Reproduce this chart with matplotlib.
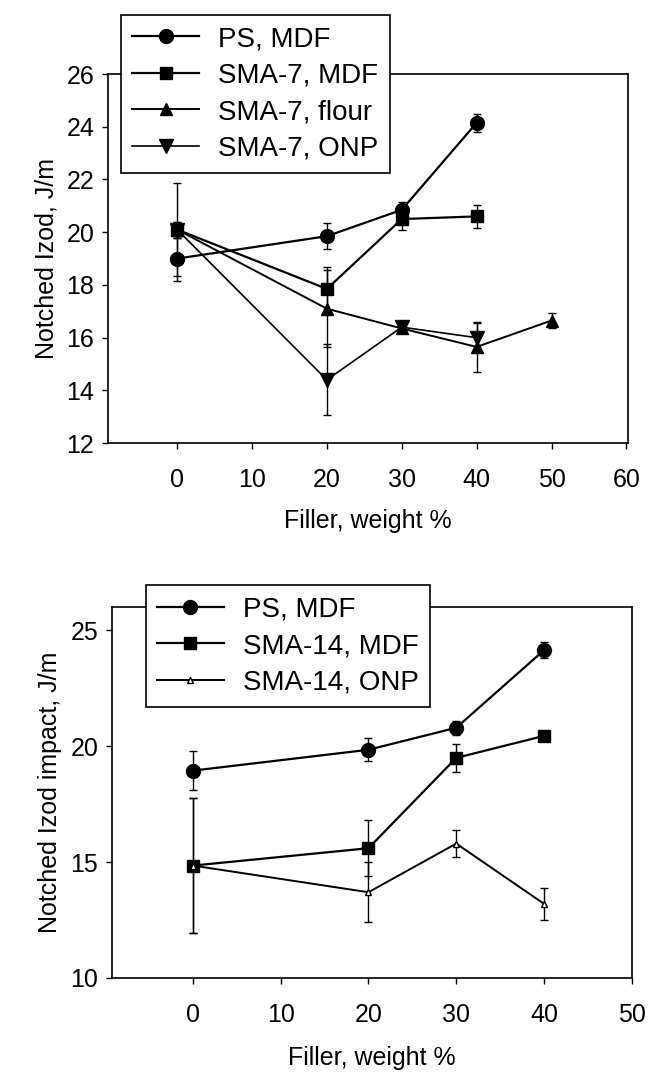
import matplotlib
matplotlib.use("Agg")
import matplotlib.pyplot as plt

plt.rcParams['font.family'] = ['Liberation Sans', 'DejaVu Sans']

# top panel: SMA-7 series
x_ps = [0, 20, 30, 40]
ps_mdf = [19.0, 19.85, 20.85, 24.15]
ps_mdf_err = [0.85, 0.5, 0.3, 0.35]

x_sma7_mdf = [0, 20, 30, 40]
sma7_mdf = [20.1, 17.85, 20.5, 20.6]
sma7_mdf_err = [1.75, 0.85, 0.4, 0.45]

x_sma7_flour = [0, 20, 30, 40, 50]
sma7_flour = [20.1, 17.1, 16.35, 15.65, 16.65]
sma7_flour_err = [0.3, 1.45, 0.1, 0.95, 0.3]

x_sma7_onp = [0, 20, 30, 40]
sma7_onp = [20.1, 14.4, 16.4, 16.0]
sma7_onp_err = [0.3, 1.35, 0.1, 0.55]

# bottom panel: SMA-14 series
ps_mdf_b = [18.95, 19.85, 20.8, 24.15]
ps_mdf_b_err = [0.85, 0.5, 0.3, 0.35]

x_sma14 = [0, 20, 30, 40]
sma14_mdf = [14.85, 15.6, 19.5, 20.45]
sma14_mdf_err = [2.9, 1.2, 0.6, 0.2]
sma14_onp = [14.85, 13.7, 15.8, 13.2]
sma14_onp_err = [2.9, 1.3, 0.6, 0.7]

top_yticks = [12, 14, 16, 18, 20, 22, 24, 26]
top_xticks = [0, 10, 20, 30, 40, 50, 60]
bot_yticks = [10, 15, 20, 25]
bot_xticks = [0, 10, 20, 30, 40, 50]

FS = 18


def series(ax, x, y, err, marker, ms, label, mfc='black', lw=1.6):
    # error bars without legend entry, line+marker carries the label
    ax.errorbar(x, y, yerr=err, fmt='none', ecolor='black',
                elinewidth=1.0, capsize=3, capthick=1.0)
    ax.plot(x, y, color='black', marker=marker, markersize=ms,
            markerfacecolor=mfc, markeredgecolor='black', linewidth=lw,
            label=label)


def style_axes(ax, xticks, yticks):
    ax.set_xticks(xticks)
    ax.set_yticks(yticks)
    ax.tick_params(direction='out', length=4, width=1, labelsize=FS, pad=6)
    ax.tick_params(axis='x', pad=14)
    for s in ax.spines.values():
        s.set_linewidth(1.2)


def legend(ax, anchor):
    leg = ax.legend(loc='upper left', bbox_to_anchor=anchor, borderaxespad=0,
                    fontsize=FS + 2, handlelength=2.4, handletextpad=0.7,
                    labelspacing=0.38, fancybox=False, edgecolor='black',
                    framealpha=1, borderpad=0.4)
    leg.get_frame().set_linewidth(1.2)


fig = plt.figure(figsize=(6.52, 10.73), dpi=100)

# top
ax1 = fig.add_axes([0.166, 0.587, 0.797, 0.344])
series(ax1, x_ps, ps_mdf, ps_mdf_err, 'o', 10, 'PS, MDF')
series(ax1, x_sma7_mdf, sma7_mdf, sma7_mdf_err, 's', 8.5, 'SMA-7, MDF')
series(ax1, x_sma7_flour, sma7_flour, sma7_flour_err, '^', 8.5, 'SMA-7, flour', lw=1.4)
series(ax1, x_sma7_onp, sma7_onp, sma7_onp_err, 'v', 9.5, 'SMA-7, ONP', lw=1.2)
ax1.set_xlim(-9.2, 60.2)
ax1.set_ylim(12, 26)
style_axes(ax1, top_xticks, top_yticks)
ax1.set_xlabel('Filler, weight %', fontsize=FS, labelpad=12)
ax1.set_ylabel('Notched Izod, J/m', fontsize=FS, labelpad=6)
legend(ax1, (0.025, 1.16))

# bottom
ax2 = fig.add_axes([0.172, 0.0886, 0.797, 0.3454])
series(ax2, x_ps, ps_mdf_b, ps_mdf_b_err, 'o', 10, 'PS, MDF')
series(ax2, x_sma14, sma14_mdf, sma14_mdf_err, 's', 8.5, 'SMA-14, MDF')
series(ax2, x_sma14, sma14_onp, sma14_onp_err, '^', 5, 'SMA-14, ONP', mfc='white', lw=1.4)
ax2.set_xlim(-9.2, 50)
ax2.set_ylim(10, 26)
style_axes(ax2, bot_xticks, bot_yticks)
ax2.set_xlabel('Filler, weight %', fontsize=FS, labelpad=14)
ax2.set_ylabel('Notched Izod impact, J/m', fontsize=FS, labelpad=6)
legend(ax2, (0.065, 1.059))

fig.savefig('out.png', dpi=100)
